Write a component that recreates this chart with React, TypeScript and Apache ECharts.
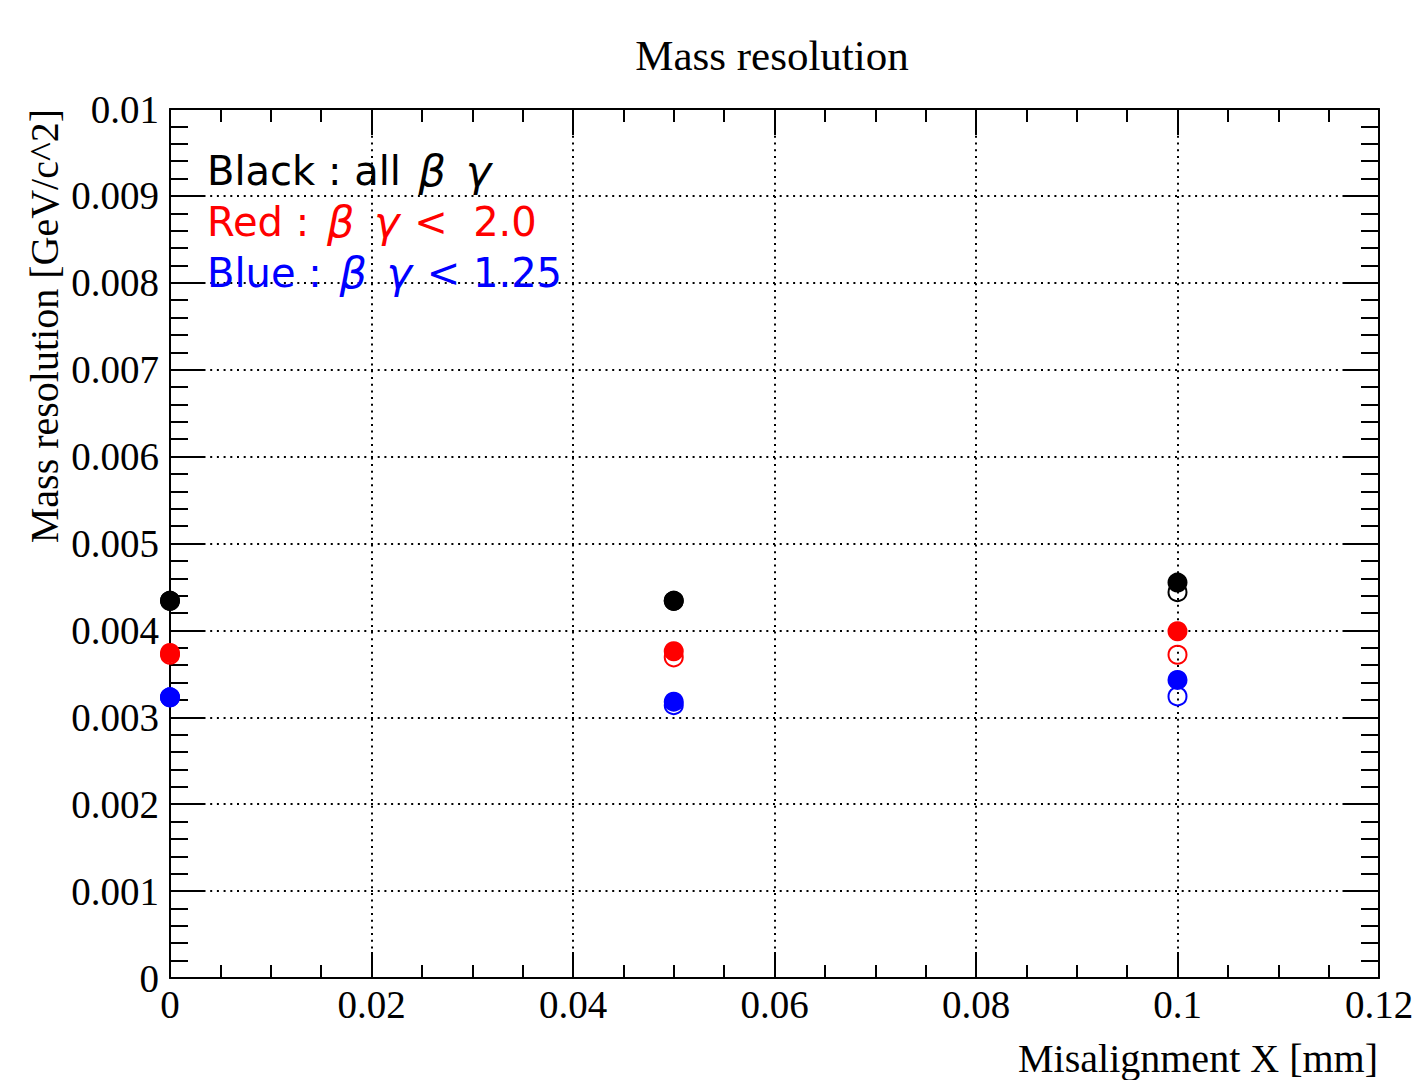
import { useEffect, useRef } from "react";
import * as echarts from "echarts";

const X_VALUES = [0, 0.05, 0.1];
const BLACK_FILLED = [0.00434, 0.00434, 0.00455];
const BLACK_OPEN = [0.00434, 0.00434, 0.00444];
const RED_FILLED = [0.00374, 0.00376, 0.00399];
const RED_OPEN = [0.00372, 0.00369, 0.00372];
const BLUE_FILLED = [0.00323, 0.00318, 0.00343];
const BLUE_OPEN = [0.00323, 0.00314, 0.00324];

const TITLE = "Mass resolution";
const X_NAME = "Misalignment X [mm]";
const Y_NAME = "Mass resolution [GeV/c^2]";
const LEGEND_LINES = [
  { text: "Black : all {g|β} {g|γ}", color: "#000000" },
  { text: "Red : {g|β} {g|γ} <  2.0", color: "#ff0000" },
  { text: "Blue : {g|β} {g|γ} < 1.25", color: "#0000ff" },
];

const SERIF = "'Liberation Serif', 'Times New Roman', serif";
const SANS = "'DejaVu Sans', 'Liberation Sans', sans-serif";

const fmt = (v: number) => String(parseFloat(Number(v).toPrecision(8)));

const pairs = (ys: number[]) => X_VALUES.map((x, i) => [x, ys[i]]);

function filled(name: string, ys: number[], color: string) {
  return {
    name,
    type: "scatter",
    data: pairs(ys),
    symbol: "circle",
    symbolSize: 20,
    clip: false,
    itemStyle: { color, opacity: 1 },
    z: 3,
  };
}

function hollow(name: string, ys: number[], color: string) {
  return {
    name,
    type: "scatter",
    data: pairs(ys),
    symbol: "circle",
    symbolSize: 18,
    clip: false,
    itemStyle: { color: "rgba(0,0,0,0)", borderColor: color, borderWidth: 2, opacity: 1 },
    z: 4,
  };
}

const tickStyle = { color: "#000", width: 2 };
const gridStyle = { color: "#000", width: 2, type: [2, 4.7] as number[] };

function xAxisDef(position: "bottom" | "top", labels: boolean) {
  return {
    type: "value",
    position,
    min: 0,
    max: 0.12,
    interval: 0.02,
    axisLine: { show: true, onZero: false, lineStyle: { color: "#000", width: 2 } },
    axisTick: { show: true, inside: true, length: 26, lineStyle: tickStyle },
    minorTick: { show: true, splitNumber: 4, length: 13, lineStyle: tickStyle },
    axisLabel: {
      show: labels,
      margin: 7,
      color: "#000",
      fontFamily: SERIF,
      fontSize: 39,
      formatter: fmt,
      showMinLabel: true,
      showMaxLabel: true,
    },
    splitLine: { show: labels, lineStyle: gridStyle },
    minorSplitLine: { show: false },
  };
}

function yAxisDef(position: "left" | "right", labels: boolean) {
  return {
    type: "value",
    position,
    min: 0,
    max: 0.01,
    interval: 0.001,
    axisLine: { show: true, onZero: false, lineStyle: { color: "#000", width: 2 } },
    axisTick: { show: true, inside: true, length: 35, lineStyle: tickStyle },
    minorTick: { show: true, splitNumber: 5, length: 18, lineStyle: tickStyle },
    axisLabel: {
      show: labels,
      margin: 11,
      color: "#000",
      fontFamily: SERIF,
      fontSize: 39,
      formatter: fmt,
      showMinLabel: true,
      showMaxLabel: true,
    },
    splitLine: { show: labels, lineStyle: gridStyle },
    minorSplitLine: { show: false },
  };
}

export default function App() {
  const ref = useRef<HTMLDivElement>(null);

  useEffect(() => {
    if (!ref.current) return;
    const chart = echarts.init(ref.current, null, { renderer: "svg" });

    const legendGraphics = LEGEND_LINES.map((l, i) => ({
      type: "text",
      x: 207,
      y: 171 + i * 51,
      z: 10,
      style: {
        text: l.text,
        fill: l.color,
        fontSize: 40,
        fontFamily: SANS,
        align: "left",
        verticalAlign: "middle",
        rich: {
          g: {
            fill: l.color,
            fontSize: 43,
            fontFamily: SANS,
            fontStyle: "italic",
            padding: [0, 2, 0, 5],
          },
        },
      },
    }));

    const option: any = {
      animation: false,
      backgroundColor: "#ffffff",
      grid: {
        left: 170,
        top: 109,
        right: 33,
        bottom: 102,
        containLabel: false,
        outerBoundsMode: "none",
      },
      xAxis: [xAxisDef("bottom", true), xAxisDef("top", false)],
      yAxis: [yAxisDef("left", true), yAxisDef("right", false)],
      series: [
        filled("Black filled", BLACK_FILLED, "#000000"),
        hollow("Black open", BLACK_OPEN, "#000000"),
        filled("Red filled", RED_FILLED, "#ff0000"),
        hollow("Red open", RED_OPEN, "#ff0000"),
        filled("Blue filled", BLUE_FILLED, "#0000ff"),
        hollow("Blue open", BLUE_OPEN, "#0000ff"),
      ],
      graphic: [
        {
          type: "text",
          x: 772,
          y: 55,
          style: {
            text: TITLE,
            fill: "#000",
            fontSize: 43,
            fontFamily: SERIF,
            align: "center",
            verticalAlign: "middle",
          },
        },
        {
          type: "text",
          x: 1378,
          y: 1058,
          style: {
            text: X_NAME,
            fill: "#000",
            fontSize: 40,
            fontFamily: SERIF,
            align: "right",
            verticalAlign: "middle",
          },
        },
        {
          type: "text",
          x: 44,
          y: 109,
          rotation: Math.PI / 2,
          style: {
            text: Y_NAME,
            fill: "#000",
            fontSize: 40,
            fontFamily: SERIF,
            align: "right",
            verticalAlign: "middle",
          },
        },
        ...legendGraphics,
      ],
    };

    chart.setOption(option);
    return () => chart.dispose();
  }, []);

  return (
    <div
      ref={ref}
      style={{ position: "fixed", left: 0, top: 0, width: 1412, height: 1080, background: "#fff" }}
    />
  );
}
